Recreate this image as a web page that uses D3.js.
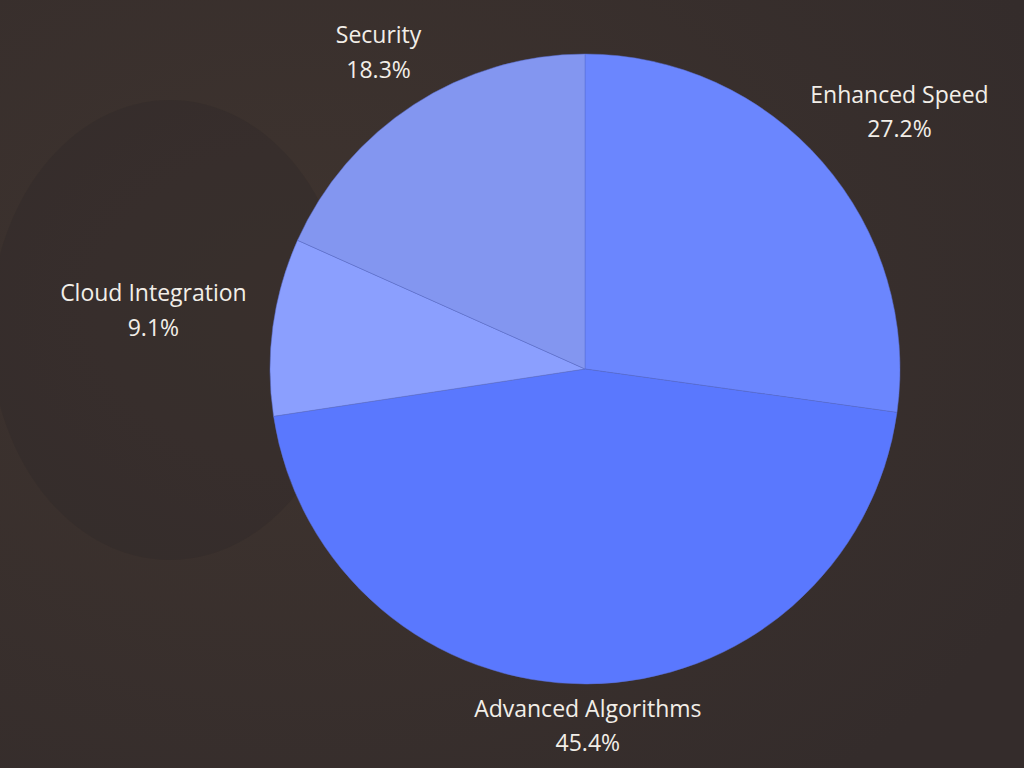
<!DOCTYPE html>
<html><head><meta charset="utf-8">
<script src="https://cdn.jsdelivr.net/npm/d3@7"></script>
<style>body{margin:0;background:#3a302e;}svg{display:block}</style>
</head><body>
<svg width="1024" height="768"></svg>
<script>
const categories = ["Enhanced Speed","Advanced Algorithms","Cloud Integration","Security"];
const values = [27.2,45.4,9.1,18.3];
const colors = ["#6b86fe","#5a78fe","#8b9ffe","#8396f0"];

const svg = d3.select("svg");
const defs = svg.append("defs");
const g0 = defs.append("radialGradient").attr("id","bg").attr("cx","30%").attr("cy","40%").attr("r","80%");
g0.append("stop").attr("offset","0%").attr("stop-color","#3f342f");
g0.append("stop").attr("offset","100%").attr("stop-color","#342c2b");
svg.append("rect").attr("width",1024).attr("height",768).attr("fill","url(#bg)");
svg.append("ellipse").attr("cx",170).attr("cy",330).attr("rx",180).attr("ry",230).attr("fill","#2f2827").attr("opacity",0.35);

const cx=585, cy=369, R=315;
const data = categories.map((c,i)=>({c, v:values[i], col:colors[i]}));
const pie = d3.pie().value(d=>d.v).sort(null);
const arc = d3.arc().innerRadius(0).outerRadius(R);
const g = svg.append("g").attr("transform",`translate(${cx},${cy})`);
const arcs = pie(data);
g.selectAll("path").data(arcs).join("path").attr("d",arc).attr("fill",d=>d.data.col)
 .attr("stroke","#5a6fd0").attr("stroke-width",0.5);

const fs=23;
arcs.forEach(a=>{
  const m=(a.startAngle+a.endAngle)/2, s=Math.sin(m), c=Math.cos(m);
  const hw = a.data.c.length*fs*0.3, hh=36;
  const x = 330*s + s*hw*0.9, y = -330*c - c*hh - 15 - 15*Math.max(0,s*c);
  const t = g.append("text").attr("x",x).attr("y",y).attr("text-anchor","middle")
    .attr("font-family","'Open Sans', sans-serif").attr("font-size",fs).attr("fill","#f2eee8");
  t.append("tspan").attr("x",x).attr("dy","-0.15em").text(a.data.c);
  t.append("tspan").attr("x",x).attr("dy","1.5em").text(a.data.v.toFixed(1)+"%");
});
</script>
</body></html>
